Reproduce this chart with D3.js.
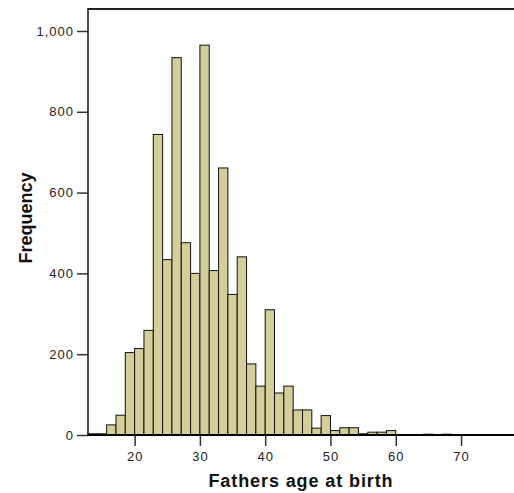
<!DOCTYPE html>
<html>
<head>
<meta charset="utf-8">
<script src="https://cdn.jsdelivr.net/npm/d3@7"></script>
<style>
  body { margin: 0; background: #fff; }
  .tick text { font-family: "Liberation Sans", Arial, sans-serif; font-size: 13px; fill: #222; letter-spacing: 1px; }
  .axis-title { font-family: "Liberation Sans", Arial, sans-serif; font-weight: bold; fill: #111; }
</style>
</head>
<body>
<svg id="chart"></svg>
<script>
// histogram bins: width 10/7 years, first bin starts at 90/7
const binStart = 90 / 7;
const binWidth = 10 / 7;
const counts = [3, 3, 25, 49, 204, 214, 259, 744, 434, 934, 476, 400, 965, 407, 661, 348,
  441, 176, 121, 310, 104, 121, 62, 62, 17, 48, 11, 18, 18, 3, 7, 7, 11, 0, 0, 0, 2, 0, 2,
  0, 0, 0, 0, 0, 0, 0];
const xTicks = [20, 30, 40, 50, 60, 70];
const yTicks = [0, 200, 400, 600, 800, 1000];
const xAxisName = 'Fathers age at birth';
const yAxisName = 'Frequency';

const width = 514, height = 493;
const margin = { top: 9, left: 88, bottom: 58, right: -3 };

const svg = d3.select('#chart')
  .attr('width', width)
  .attr('height', height);

const bins = counts.map((c, i) => ({ x0: binStart + i * binWidth, x1: binStart + (i + 1) * binWidth, n: c }));

const xScale = d3.scaleLinear()
  .domain([binStart, binStart + counts.length * binWidth])
  .range([margin.left, width - margin.right]);

const yScale = d3.scaleLinear()
  .domain([0, 1000])
  .range([height - margin.bottom, 31]);

// bars
svg.append('g')
  .selectAll('rect')
  .data(bins.filter(d => d.n > 0))
  .join('rect')
    .attr('x', d => xScale(d.x0))
    .attr('width', d => xScale(d.x1) - xScale(d.x0))
    .attr('y', d => yScale(d.n))
    .attr('height', d => yScale(0) - yScale(d.n))
    .attr('fill', '#d3ce9a')
    .attr('stroke', '#111')
    .attr('stroke-width', 1);

// frame: top + left
svg.append('line')
  .attr('x1', margin.left).attr('x2', width)
  .attr('y1', margin.top).attr('y2', margin.top)
  .attr('stroke', '#222').attr('stroke-width', 2);

// axes
const xAxis = d3.axisBottom(xScale)
  .tickValues(xTicks)
  .tickSize(11)
  .tickPadding(6)
  .tickSizeOuter(0);

const yAxis = d3.axisLeft(yScale)
  .tickValues(yTicks)
  .tickSize(11)
  .tickPadding(3)
  .tickSizeOuter(0)
  .tickFormat(d3.format(','));

const xAxisG = svg.append('g')
  .attr('transform', `translate(0,${yScale(0)})`)
  .call(xAxis);
xAxisG.select('.domain').remove();
xAxisG.selectAll('.tick line').attr('stroke', '#333').attr('stroke-width', 1.5);

svg.append('line')
  .attr('x1', margin.left).attr('x2', width)
  .attr('y1', yScale(0)).attr('y2', yScale(0))
  .attr('stroke', '#000').attr('stroke-width', 2);

const yAxisG = svg.append('g')
  .attr('transform', `translate(${margin.left},0)`)
  .call(yAxis);
yAxisG.select('.domain').remove();
yAxisG.selectAll('.tick line').attr('stroke', '#333').attr('stroke-width', 1.5);

svg.append('line')
  .attr('x1', margin.left).attr('x2', margin.left)
  .attr('y1', margin.top - 1).attr('y2', yScale(0))
  .attr('stroke', '#111').attr('stroke-width', 1.5);

// axis titles
svg.append('text')
  .attr('class', 'axis-title')
  .attr('x', 301)
  .attr('y', 487)
  .style('font-size', '18px')
  .style('letter-spacing', '0.9px')
  .style('text-anchor', 'middle')
  .text(xAxisName);

svg.append('text')
  .attr('class', 'axis-title')
  .attr('transform', 'translate(32,218) rotate(-90)')
  .style('font-size', '18px')
  .style('text-anchor', 'middle')
  .text(yAxisName);
</script>
</body>
</html>
